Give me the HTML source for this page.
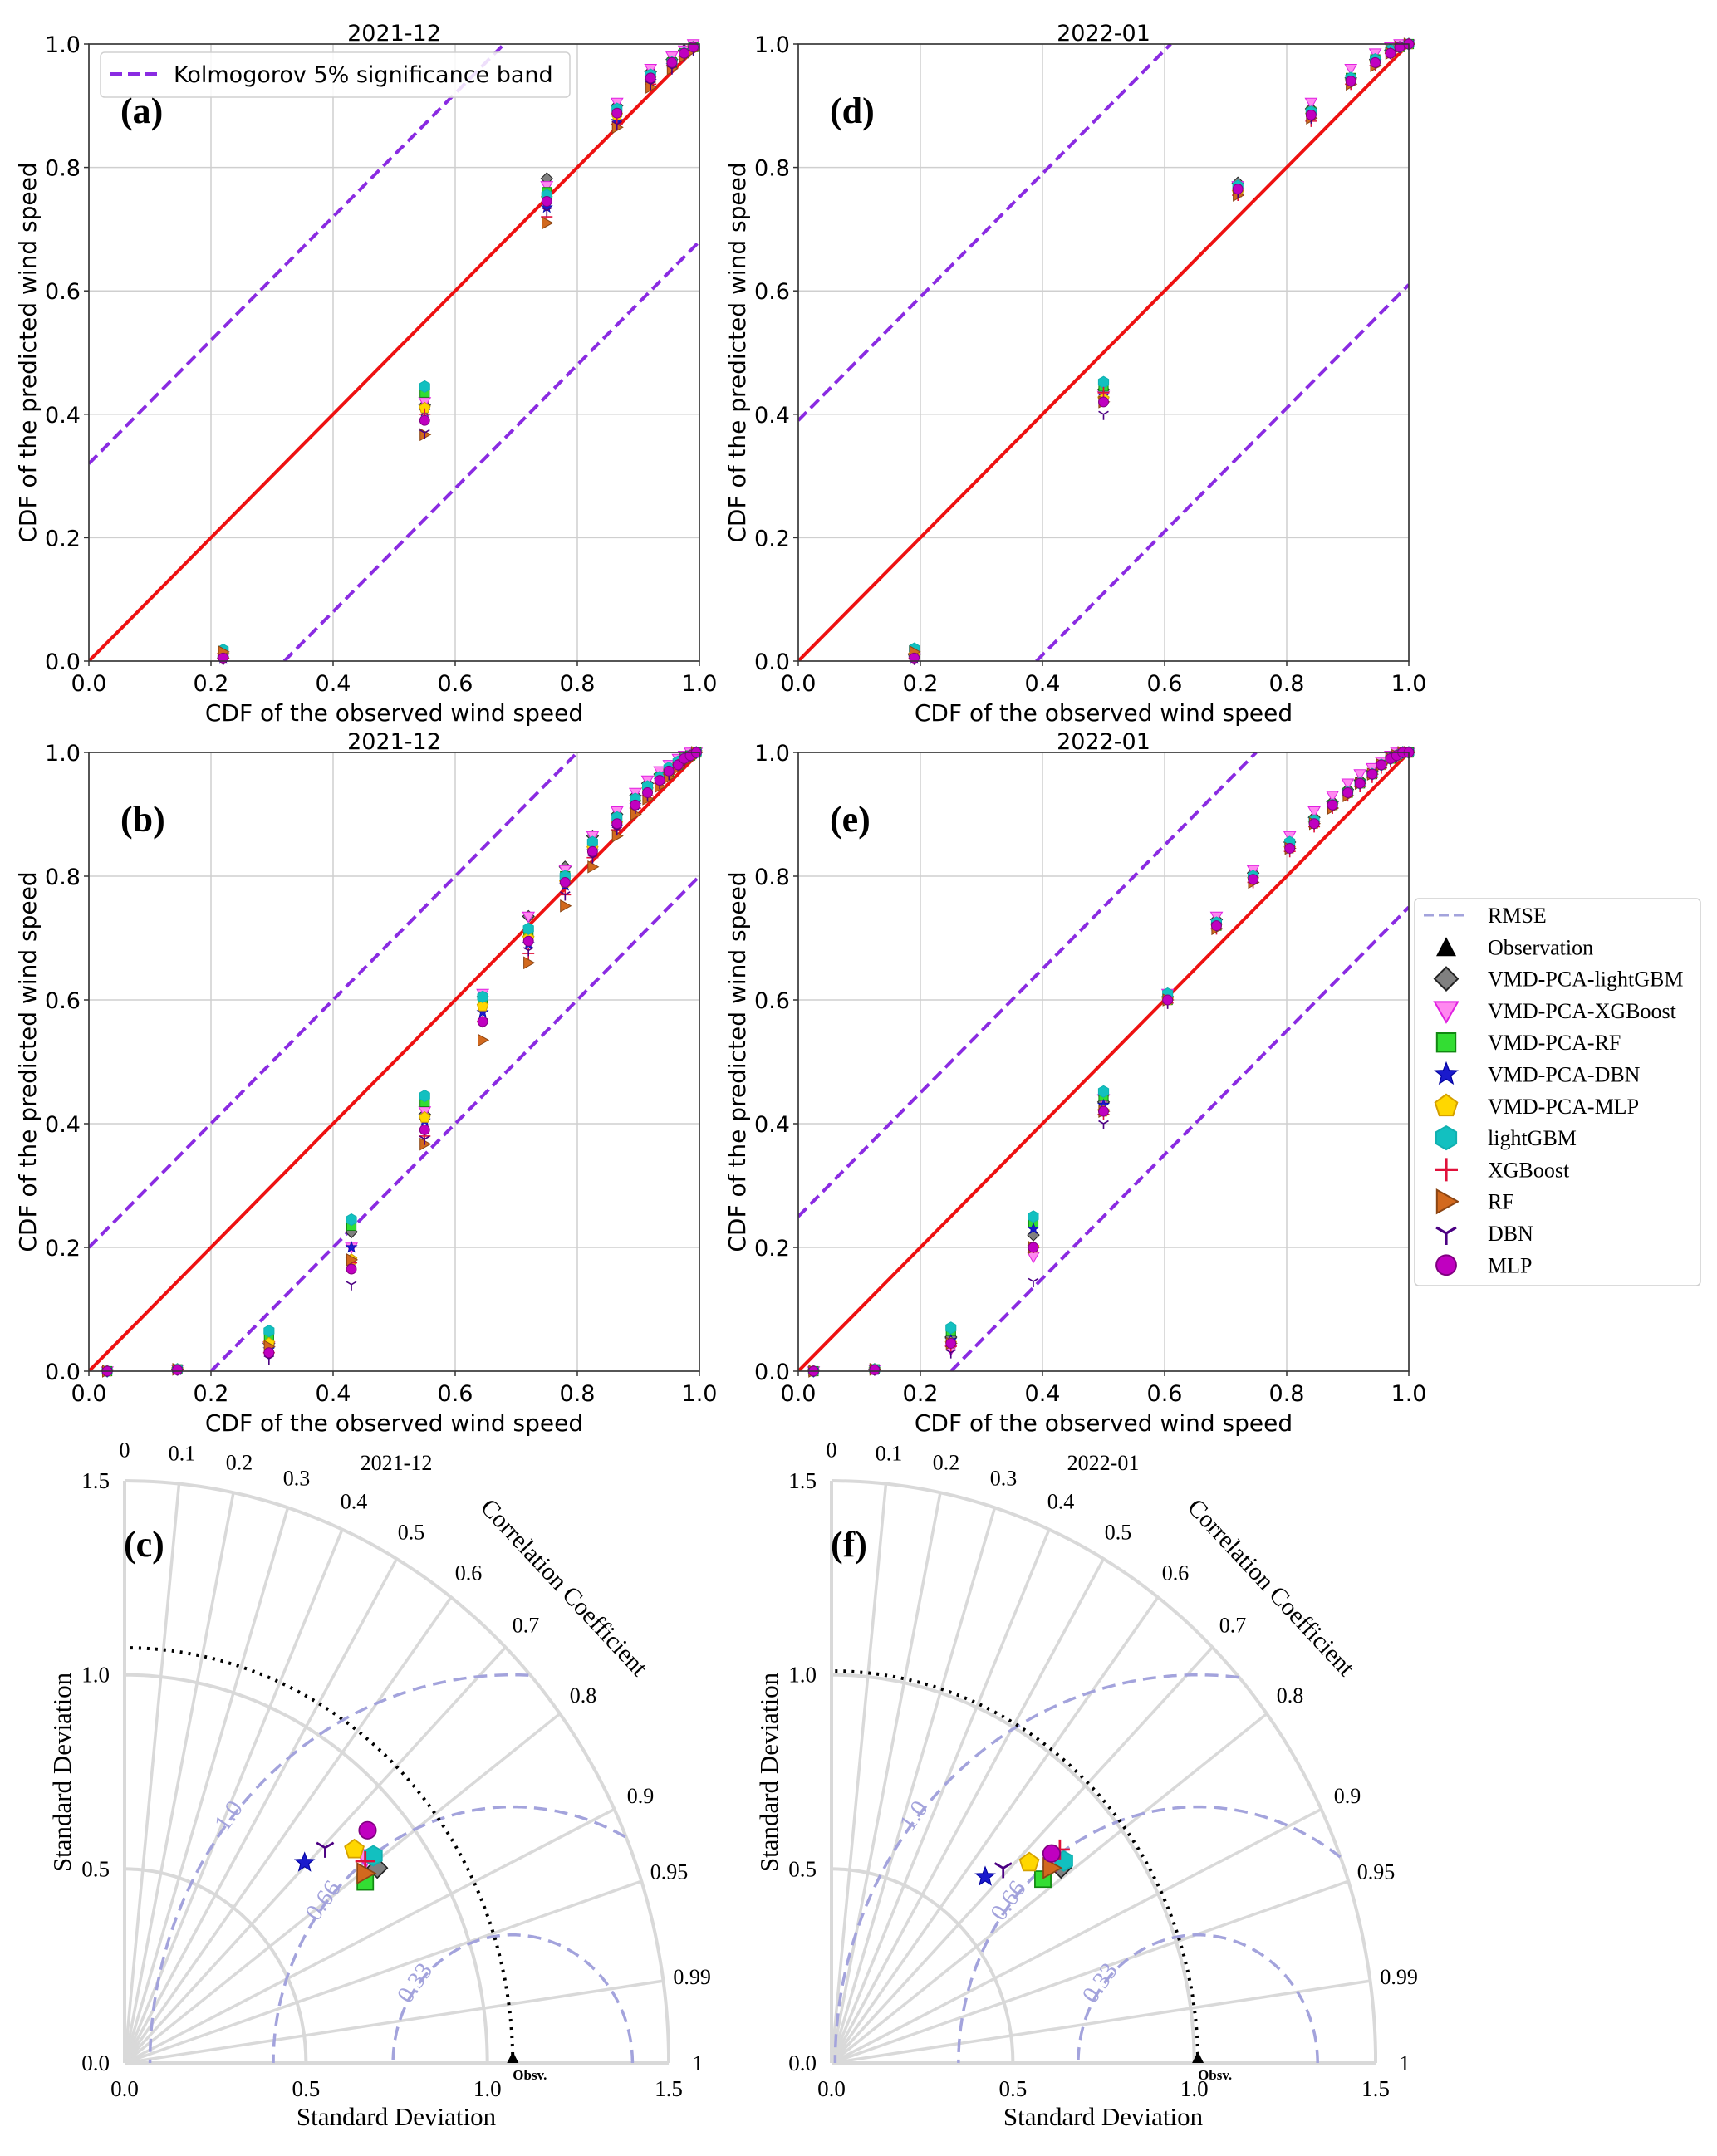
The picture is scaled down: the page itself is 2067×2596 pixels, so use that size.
<!DOCTYPE html>
<html><head><meta charset="utf-8"><style>
html,body{margin:0;padding:0;background:#fff}
svg{display:block}
.dj{font-family:"DejaVu Sans","Liberation Sans",sans-serif}
.sf{font-family:"Liberation Serif","DejaVu Serif",serif}
</style></head><body>
<svg id="fig" width="2067" height="2596" viewBox="0 0 2067 2596" xmlns="http://www.w3.org/2000/svg"></svg>
<script>
// ---------- data ----------
const modelNames = ["VMD-PCA-lightGBM","VMD-PCA-XGBoost","VMD-PCA-RF","VMD-PCA-DBN","VMD-PCA-MLP","lightGBM","XGBoost","RF","DBN","MLP"];
const modelShapes = ["diamond","invtri","square","star","pent","hex","plus","triright","Y","circle"];
const axisTicks = [0,0.2,0.4,0.6,0.8,1.0];
const tickLabels = ["0.0","0.2","0.4","0.6","0.8","1.0"];

const aX = [0.22,0.55,0.75,0.865,0.92,0.955,0.975,0.99];
const aY = [
[0.005,0.415,0.782,0.90,0.955,0.975,0.99,0.995],
[0.005,0.42,0.77,0.905,0.96,0.98,0.99,1.0],
[0.015,0.435,0.76,0.89,0.945,0.97,0.985,0.995],
[0.005,0.405,0.735,0.875,0.94,0.965,0.985,0.995],
[0.01,0.41,0.75,0.885,0.945,0.97,0.985,0.995],
[0.018,0.445,0.755,0.895,0.95,0.97,0.985,0.995],
[0.005,0.40,0.72,0.87,0.935,0.965,0.98,0.995],
[0.015,0.367,0.71,0.865,0.93,0.96,0.98,0.99],
[0.003,0.37,0.73,0.87,0.935,0.96,0.98,0.99],
[0.005,0.39,0.745,0.888,0.945,0.97,0.985,0.995]];
const aBand = 0.32;

const dX = [0.19,0.5,0.72,0.84,0.905,0.945,0.97,0.985,1.0];
const dY = [
[0.01,0.44,0.775,0.895,0.945,0.975,0.99,0.995,1.0],
[0.005,0.43,0.77,0.905,0.96,0.985,0.995,1.0,1.0],
[0.015,0.445,0.765,0.89,0.945,0.975,0.99,0.995,1.0],
[0.005,0.43,0.76,0.885,0.94,0.97,0.985,0.995,1.0],
[0.01,0.425,0.76,0.885,0.94,0.97,0.985,0.995,1.0],
[0.02,0.452,0.77,0.89,0.945,0.975,0.99,0.995,1.0],
[0.005,0.435,0.755,0.875,0.935,0.965,0.985,0.995,1.0],
[0.015,0.42,0.755,0.88,0.935,0.965,0.985,0.995,1.0],
[0.003,0.40,0.76,0.88,0.94,0.97,0.985,0.995,1.0],
[0.005,0.42,0.765,0.885,0.94,0.97,0.985,0.995,1.0]];
const dBand = 0.39;

const bX = [0.03,0.145,0.295,0.43,0.55,0.645,0.72,0.78,0.825,0.865,0.895,0.915,0.935,0.95,0.965,0.975,0.985,0.995];
const bY = [
[0,0.003,0.045,0.225,0.415,0.605,0.735,0.815,0.865,0.9,0.93,0.95,0.965,0.975,0.985,0.99,0.995,1],
[0,0.003,0.04,0.2,0.42,0.61,0.735,0.81,0.865,0.905,0.935,0.955,0.97,0.98,0.99,0.995,1,1],
[0,0.003,0.055,0.235,0.435,0.6,0.71,0.8,0.85,0.89,0.92,0.94,0.96,0.97,0.98,0.99,0.995,1],
[0,0.002,0.035,0.2,0.405,0.58,0.69,0.785,0.84,0.88,0.915,0.935,0.955,0.97,0.98,0.99,0.995,1],
[0,0.003,0.045,0.18,0.41,0.59,0.7,0.79,0.845,0.885,0.92,0.94,0.96,0.97,0.98,0.99,0.995,1],
[0,0.003,0.065,0.245,0.445,0.605,0.715,0.8,0.855,0.895,0.925,0.945,0.96,0.975,0.985,0.99,0.995,1],
[0,0.002,0.03,0.175,0.38,0.565,0.675,0.77,0.83,0.875,0.91,0.93,0.95,0.965,0.98,0.985,0.995,1],
[0,0.003,0.04,0.18,0.367,0.535,0.66,0.752,0.815,0.865,0.9,0.925,0.945,0.96,0.975,0.985,0.99,1],
[0,0.002,0.02,0.14,0.375,0.565,0.68,0.77,0.83,0.875,0.91,0.93,0.95,0.965,0.98,0.985,0.995,1],
[0,0.002,0.03,0.165,0.39,0.565,0.695,0.79,0.84,0.885,0.915,0.935,0.955,0.97,0.98,0.99,0.995,1]];
const bBand = 0.20;

const eX = [0.025,0.125,0.25,0.385,0.5,0.605,0.685,0.745,0.805,0.845,0.875,0.9,0.92,0.94,0.955,0.97,0.98,0.99,1.0];
const eY = [
[0,0.003,0.055,0.22,0.435,0.605,0.73,0.805,0.855,0.895,0.92,0.94,0.955,0.97,0.98,0.99,0.995,1,1],
[0,0.003,0.035,0.185,0.44,0.61,0.735,0.81,0.865,0.905,0.93,0.95,0.965,0.975,0.985,0.995,1,1,1],
[0,0.003,0.065,0.24,0.445,0.6,0.72,0.795,0.85,0.89,0.915,0.935,0.95,0.965,0.98,0.99,0.995,1,1],
[0,0.002,0.05,0.23,0.43,0.6,0.72,0.795,0.845,0.885,0.915,0.935,0.95,0.965,0.98,0.99,0.995,1,1],
[0,0.003,0.045,0.2,0.42,0.6,0.72,0.795,0.845,0.885,0.915,0.935,0.95,0.965,0.98,0.99,0.995,1,1],
[0,0.003,0.07,0.25,0.452,0.61,0.725,0.8,0.855,0.89,0.915,0.935,0.95,0.965,0.98,0.99,0.995,1,1],
[0,0.002,0.04,0.2,0.415,0.595,0.715,0.79,0.84,0.88,0.91,0.93,0.945,0.96,0.975,0.985,0.995,1,1],
[0,0.003,0.045,0.2,0.42,0.6,0.715,0.79,0.845,0.885,0.91,0.93,0.95,0.965,0.98,0.99,0.995,1,1],
[0,0.002,0.03,0.145,0.40,0.595,0.72,0.795,0.845,0.885,0.915,0.935,0.95,0.965,0.98,0.99,0.995,1,1],
[0,0.002,0.045,0.2,0.42,0.6,0.72,0.795,0.845,0.885,0.915,0.935,0.95,0.965,0.98,0.99,0.995,1,1]];
const eBand = 0.25;

// Taylor data: standard deviation and correlation per model
const cStd  = [0.859,0.850,0.811,0.716,0.839,0.869,0.843,0.824,0.783,0.899];
const cCorr = [0.811,0.782,0.818,0.693,0.755,0.789,0.787,0.805,0.706,0.745];
const cObs = 1.07;
const fStd  = [0.808,0.809,0.751,0.640,0.751,0.825,0.836,0.787,0.690,0.812];
const fCorr = [0.783,0.766,0.776,0.662,0.726,0.776,0.753,0.770,0.686,0.747];
const fObs = 1.01;
const corrTicks = [0,0.1,0.2,0.3,0.4,0.5,0.6,0.7,0.8,0.9,0.95,0.99,1];
const corrTickLabels = ["0","0.1","0.2","0.3","0.4","0.5","0.6","0.7","0.8","0.9","0.95","0.99","1"];
const sdTicks = [0,0.5,1.0,1.5];
const sdTickLabels = ["0.0","0.5","1.0","1.5"];
const rmseLevels = [0.33,0.66,1.0];
const rmseLabels = ["0.33","0.66","1.0"];

// ---------- helpers ----------
const NS = "http://www.w3.org/2000/svg";
const svg = document.getElementById("fig");
function el(tag, attrs, parent){
  const e = document.createElementNS(NS, tag);
  for (const k in attrs) e.setAttribute(k, attrs[k]);
  (parent||svg).appendChild(e);
  return e;
}
function txt(s, attrs, parent){ const t = el("text", attrs, parent); t.textContent = s; return t; }

const styles = {
  diamond:{fill:"#808080",stroke:"#222"},
  invtri:{fill:"#ff88f0",stroke:"#e020e0"},
  square:{fill:"#33dd33",stroke:"#118811"},
  star:{fill:"#1a1acc",stroke:"#0000a0"},
  pent:{fill:"#ffd700",stroke:"#d4a000"},
  hex:{fill:"#12c0c0",stroke:"#10b0b0"},
  plus:{fill:"none",stroke:"#e0103a"},
  triright:{fill:"#d2691e",stroke:"#8b4513"},
  Y:{fill:"none",stroke:"#4b0082"},
  circle:{fill:"#c000c0",stroke:"#800080"}
};
function poly(pts){ return pts.map(p=>p[0].toFixed(1)+","+p[1].toFixed(1)).join(" "); }
function marker(type, cx, cy, s, g){
  const st = styles[type]; const sw = Math.max(1, s/7);
  let e;
  if (type==="diamond") e = el("polygon",{points:poly([[cx,cy-s],[cx+s,cy],[cx,cy+s],[cx-s,cy]]),fill:st.fill,stroke:st.stroke,"stroke-width":sw},g);
  else if (type==="invtri") e = el("polygon",{points:poly([[cx-s,cy-s*0.75],[cx+s,cy-s*0.75],[cx,cy+s]]),fill:st.fill,stroke:st.stroke,"stroke-width":sw},g);
  else if (type==="square") e = el("rect",{x:cx-s*0.8,y:cy-s*0.8,width:s*1.6,height:s*1.6,fill:st.fill,stroke:st.stroke,"stroke-width":sw},g);
  else if (type==="star"){ const p=[]; for(let i=0;i<10;i++){const a=-Math.PI/2+i*Math.PI/5; const r=i%2?s*0.42:s; p.push([cx+r*Math.cos(a),cy+r*Math.sin(a)]);} e=el("polygon",{points:poly(p),fill:st.fill,stroke:st.stroke,"stroke-width":sw*0.6},g); }
  else if (type==="pent"){ const p=[]; for(let i=0;i<5;i++){const a=-Math.PI/2+i*2*Math.PI/5; p.push([cx+s*Math.cos(a),cy+s*Math.sin(a)]);} e=el("polygon",{points:poly(p),fill:st.fill,stroke:st.stroke,"stroke-width":sw},g); }
  else if (type==="hex"){ const p=[]; for(let i=0;i<6;i++){const a=-Math.PI/2+i*Math.PI/3; p.push([cx+s*Math.cos(a),cy+s*Math.sin(a)]);} e=el("polygon",{points:poly(p),fill:st.fill,stroke:st.stroke,"stroke-width":sw},g); }
  else if (type==="plus") e = el("path",{d:`M${cx-s},${cy}H${cx+s}M${cx},${cy-s}V${cy+s}`,stroke:st.stroke,"stroke-width":sw*1.6,fill:"none"},g);
  else if (type==="triright") e = el("polygon",{points:poly([[cx-s*0.8,cy-s],[cx+s,cy],[cx-s*0.8,cy+s]]),fill:st.fill,stroke:st.stroke,"stroke-width":sw},g);
  else if (type==="Y") e = el("path",{d:`M${cx},${cy}L${cx-s*0.85},${cy-s*0.5}M${cx},${cy}L${cx+s*0.85},${cy-s*0.5}M${cx},${cy}V${cy+s}`,stroke:st.stroke,"stroke-width":sw*1.6,fill:"none"},g);
  else e = el("circle",{cx:cx,cy:cy,r:s*0.85,fill:st.fill,stroke:st.stroke,"stroke-width":sw},g);
  return e;
}

// ---------- CDF panels ----------
function cdfPanel(id, title, L, T, R, B, xs, ys, band, label, showLegend){
  const g = el("g",{});
  
  
  const px = v => L + v*(R-L), py = v => B - v*(B-T);
  axisTicks.forEach((t,i)=>{
    const gx = el("line",{x1:px(t),y1:T,x2:px(t),y2:B,stroke:"#cfcfcf","stroke-width":1.5},g);
    
    
    const gy = el("line",{x1:L,y1:py(t),x2:R,y2:py(t),stroke:"#cfcfcf","stroke-width":1.5},g);
    
    
    const xt = txt(tickLabels[i],{x:px(t),y:B+36,"text-anchor":"middle","font-size":27,class:"dj",fill:"#000"},g);
    
    
    const yt = txt(tickLabels[i],{x:L-10,y:py(t)+10,"text-anchor":"end","font-size":27,class:"dj",fill:"#000"},g);
    
    
    el("line",{x1:px(t),y1:B,x2:px(t),y2:B+6,stroke:"#333","stroke-width":1.5},g);
    el("line",{x1:L-6,y1:py(t),x2:L,y2:py(t),stroke:"#333","stroke-width":1.5},g);
  });
  const cp = el("clipPath",{id:"clip-"+id},g);
  el("rect",{x:L,y:T,width:R-L,height:B-T},cp);
  const pg = el("g",{"clip-path":"url(#clip-"+id+")"},g);
  const up = el("line",{x1:px(0),y1:py(band),x2:px(1-band),y2:py(1),stroke:"#8a2be2","stroke-width":4,"stroke-dasharray":"14,7"},pg);
  
  
  const lo = el("line",{x1:px(band),y1:py(0),x2:px(1),y2:py(1-band),stroke:"#8a2be2","stroke-width":4,"stroke-dasharray":"14,7"},pg);
  
  
  const dg = el("line",{x1:px(0),y1:py(0),x2:px(1),y2:py(1),stroke:"#ee1111","stroke-width":4},pg);
  
  
  ys.forEach((series,mi)=>{
    const sg = el("g",{},g);
    
    
    series.forEach((v,j)=>{
      const m = marker(modelShapes[mi], px(xs[j]), py(v), 7, sg);
      
      
    });
  });
  el("rect",{x:L,y:T,width:R-L,height:B-T,fill:"none",stroke:"#333","stroke-width":1.6},g);
  const tt = txt(title,{x:(L+R)/2,y:T-4,"text-anchor":"middle","font-size":27,class:"dj"},g);
  
  
  const xl = txt("CDF of the observed wind speed",{x:(L+R)/2,y:B+72,"text-anchor":"middle","font-size":28,class:"dj"},g);
  
  
  const yl = txt("CDF of the predicted wind speed",{x:0,y:0,"text-anchor":"middle","font-size":28,class:"dj",transform:`translate(${L-64},${(T+B)/2}) rotate(-90)`},g);
  
  
  const pl = txt(label,{x:L+38,y:T+95,"font-size":44,"font-weight":"bold",class:"sf"},g);
  
  
  if (showLegend){
    const lg = el("g",{},g);
    
    
    el("rect",{x:121,y:63,width:565,height:54,rx:5,fill:"#fff","fill-opacity":0.85,stroke:"#d0d0d0","stroke-width":1.5},lg);
    el("line",{x1:133,y1:89,x2:191,y2:89,stroke:"#8a2be2","stroke-width":4,"stroke-dasharray":"14,7"},lg);
    const lt = txt("Kolmogorov 5% significance band",{x:209,y:99,"font-size":27,class:"dj"},lg);
    
    
  }
}
cdfPanel("a","2021-12",107,53,842,796,aX,aY,aBand,"(a)",true);
cdfPanel("d","2022-01",961,53,1696,796,dX,dY,dBand,"(d)",false);
cdfPanel("b","2021-12",107,906,842,1651,bX,bY,bBand,"(b)",false);
cdfPanel("e","2022-01",961,906,1696,1651,eX,eY,eBand,"(e)",false);

// ---------- Taylor panels ----------
function taylor(id, title, ox, oy, stds, corrs, obs, label){
  const kx = 436.7, ky = 467.3;
  const g = el("g",{});
  
  
  const P = (r,th) => [ox + r*Math.cos(th)*kx, oy - r*Math.sin(th)*ky];
  const arcPath = (r) => { let d=""; for(let i=0;i<=90;i++){const p=P(r,i*Math.PI/180); d+=(i?"L":"M")+p[0].toFixed(1)+","+p[1].toFixed(1);} return d; };
  el("line",{x1:ox,y1:oy,x2:ox+1.5*kx,y2:oy,stroke:"#d9d9d9","stroke-width":4},g);
  el("line",{x1:ox,y1:oy,x2:ox,y2:oy-1.5*ky,stroke:"#d9d9d9","stroke-width":4},g);
  corrTicks.forEach(c=>{
    if (c===0||c===1) return;
    const th = Math.acos(c); const p = P(1.5,th);
    const ln = el("line",{x1:ox,y1:oy,x2:p[0],y2:p[1],stroke:"#d9d9d9","stroke-width":3.5},g);
    
    
  });
  [0.5,1.0,1.5].forEach(r=>{
    const a = el("path",{d:arcPath(r),fill:"none",stroke:"#d9d9d9","stroke-width":4},g);
    
    
  });
  rmseLevels.forEach((lv,i)=>{
    let d="", started=false;
    for(let k=0;k<=360;k++){
      const a = k*Math.PI/360;
      const x = obs + lv*Math.cos(a), y = lv*Math.sin(a);
      if (x<0 || Math.hypot(x,y)>1.5){ started=false; continue; }
      d += (started?"L":"M")+(ox+x*kx).toFixed(1)+","+(oy-y*ky).toFixed(1); started=true;
    }
    const a = el("path",{d:d,fill:"none",stroke:"#a3a3dc","stroke-width":3.5,"stroke-dasharray":"16,9"},g);
    
    
    const phi = 140*Math.PI/180;
    const lx = ox + (obs + lv*Math.cos(phi))*kx, ly = oy - lv*Math.sin(phi)*ky;
    const t = txt(rmseLabels[i],{x:0,y:0,"text-anchor":"middle","font-size":29,class:"sf",fill:"#a3a3dc",transform:`translate(${lx},${ly+8}) rotate(-55)`},g);
    
    
  });
  const od = el("path",{d:arcPath(obs),fill:"none",stroke:"#000","stroke-width":4,"stroke-dasharray":"3,7"},g);
  
  
  sdTicks.forEach((t,i)=>{
    const a = txt(sdTickLabels[i],{x:ox+t*kx,y:oy+40,"text-anchor":"middle","font-size":27,class:"sf"},g);
    
    
    const b = txt(sdTickLabels[i],{x:ox-18,y:oy-t*ky+9,"text-anchor":"end","font-size":27,class:"sf"},g);
    
    
  });
  corrTicks.forEach((c,i)=>{
    const p = P(1.58, Math.acos(c));
    const t = txt(corrTickLabels[i],{x:p[0],y:p[1]+9,"text-anchor":"middle","font-size":26,class:"sf"},g);
    
    
  });
  const cc = txt("Correlation Coefficient",{x:0,y:0,"text-anchor":"middle","font-size":30,class:"sf",transform:`translate(${ox+522},${oy-566}) rotate(47)`},g);
  
  
  const xt = txt("Standard Deviation",{x:ox+327,y:oy+75,"text-anchor":"middle","font-size":31,class:"sf"},g);
  
  
  const yt = txt("Standard Deviation",{x:0,y:0,"text-anchor":"middle","font-size":31,class:"sf",transform:`translate(${ox-65},${oy-350}) rotate(-90)`},g);
  
  
  const tt = txt(title,{x:ox+327,y:oy-714,"text-anchor":"middle","font-size":26,class:"sf"},g);
  
  
  const pl = txt(label,{x:ox-1,y:oy-610,"font-size":44,"font-weight":"bold",class:"sf"},g);
  
  
  const om = el("polygon",{points:poly([[ox+obs*kx,oy-14],[ox+obs*kx-7,oy],[ox+obs*kx+7,oy]]),fill:"#000"},g);
  
  
  const ol = txt("Obsv.",{x:ox+obs*kx,y:oy+20,"font-size":17,"font-weight":"bold",class:"sf"},g);
  
  
  stds.forEach((s,i)=>{
    const th = Math.acos(corrs[i]); const p = P(s,th);
    const m = marker(modelShapes[i], p[0], p[1], 12, g);
    
    
  });
}
taylor("c","2021-12",150,2484,cStd,cCorr,cObs,"(c)");
taylor("f","2022-01",1001,2484,fStd,fCorr,fObs,"(f)");

// ---------- Taylor legend ----------
const lg = el("g",{});


el("rect",{x:1703,y:1082,width:344,height:466,rx:5,fill:"#fff",stroke:"#cfcfcf","stroke-width":1.5},lg);
const legNames = ["RMSE","Observation"].concat(modelNames);
legNames.forEach((n,i)=>{
  const y = 1102 + i*38.3;
  if (i===0){
    el("line",{x1:1714,y1:y,x2:1768,y2:y,stroke:"#a3a3dc","stroke-width":3,"stroke-dasharray":"12,6"},lg);
  } else if (i===1){
    el("polygon",{points:poly([[1741,y-12],[1729,y+11],[1753,y+11]]),fill:"#000"},lg);
  } else {
    marker(modelShapes[i-2],1741,y,14,lg);
  }
  const t = txt(n,{x:1791,y:y+9,"font-size":26,class:"sf"},lg);
  
  
});
</script>
</body></html>
